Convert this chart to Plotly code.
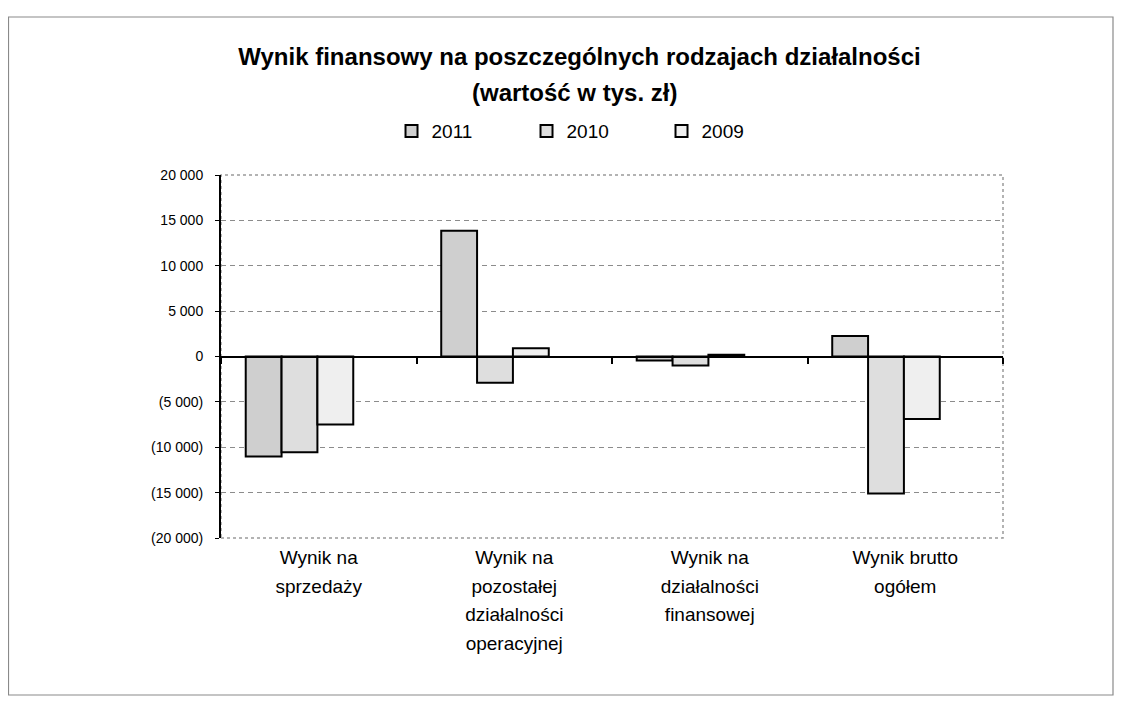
import plotly.graph_objects as go

categories = ["Wynik na sprzedaży",
              "Wynik na pozostałej działalności operacyjnej",
              "Wynik na działalności finansowej",
              "Wynik brutto ogółem"]
label_lines = [["Wynik na", "sprzedaży"],
               ["Wynik na", "pozostałej", "działalności", "operacyjnej"],
               ["Wynik na", "działalności", "finansowej"],
               ["Wynik brutto", "ogółem"]]
years = ["2011", "2010", "2009"]
v2011 = [-11030, 13850, -450, 2250]
v2010 = [-10550, -2900, -1000, -15100]
v2009 = [-7500, 900, 200, -6900]
series = [v2011, v2010, v2009]
colors = ["#cfcfcf", "#dedede", "#efefef"]

y_tickvals = [20000, 15000, 10000, 5000, 0, -5000, -10000, -15000, -20000]
y_ticktext = ["20 000", "15 000", "10 000", "5 000", "0",
              "(5 000)", "(10 000)", "(15 000)", "(20 000)"]

FONT = "Liberation Sans, Arial, sans-serif"

# the page body adds an 8px offset; layout below is expressed in figure pixels
L, R, T, B = 213, 127, 167, 171
W, H = 1122, 701
PW, PH = W - L - R, H - T - B

tick_labels = ["<br>".join("<span style='font-size:19px'>%s</span>" % s for s in lines)
               for lines in label_lines]

fig = go.Figure()
for name, vals, col in zip(years, series, colors):
    fig.add_trace(go.Bar(
        x=categories, y=vals, name=name,
        marker=dict(color=col, line=dict(color="black", width=2)),
        xaxis="x", yaxis="y",
    ))

n = len(categories)
shift = 0.0985  # bars sit left of the category centre, as in the original
fig.update_layout(
    width=W, height=H,
    paper_bgcolor="white", plot_bgcolor="white",
    margin=dict(l=L, r=R, t=T, b=B),
    barmode="group", bargap=0.45, bargroupgap=0,
    font=dict(family=FONT, color="black"),
    title=dict(text="<b>Wynik finansowy na poszczególnych rodzajach działalności</b>",
               font=dict(size=24, family=FONT, color="black"),
               x=(579.5 - 8) / W, xanchor="center", xref="container",
               y=1 - 49 / H, yanchor="middle", yref="container"),
    showlegend=True,
    legend=dict(orientation="h", x=0.477, xanchor="center", y=1.121, yanchor="middle",
                font=dict(size=19, family=FONT), entrywidth=90, traceorder="normal",
                bgcolor="rgba(0,0,0,0)"),
    xaxis=dict(type="category", categoryorder="array", categoryarray=categories,
               range=[-0.5 + shift, n - 0.5 + shift],
               showticklabels=False, ticks="", showgrid=False, showline=False,
               zeroline=False, domain=[0, 1]),
    xaxis2=dict(type="linear", overlaying="x", anchor="y", side="bottom",
                range=[-0.5, n - 0.5], tickvals=list(range(n)), ticktext=tick_labels,
                tickfont=dict(size=22, family=FONT, color="black"),
                ticklabelstandoff=3,
                ticks="", showgrid=False, showline=False, zeroline=False),
    xaxis3=dict(type="linear", overlaying="x", anchor="free", position=0.5,
                range=[-0.5, n - 0.5],
                tickvals=[i - 0.5 for i in range(n + 1)],
                showticklabels=False, ticks="outside", ticklen=6, tickwidth=2,
                tickcolor="black", showline=True, linecolor="black", linewidth=2,
                showgrid=False, zeroline=False),
    yaxis=dict(range=[-20000, 20000], tickvals=y_tickvals, ticktext=y_ticktext,
               tickfont=dict(size=14, family=FONT, color="black"),
               ticks="outside", ticklen=4, tickcolor="black", ticklabelstandoff=9,
               showline=True, linecolor="black", linewidth=2,
               showgrid=True, gridcolor="#8c8c8c", griddash="5px,4px", gridwidth=1,
               zeroline=False, domain=[0, 1]),
    annotations=[dict(text="<b>(wartość w tys. zł)</b>", xref="paper", yref="paper",
                      x=(574 - 8 - L) / PW, y=(H - B - (93 - 8)) / PH,
                      xanchor="center", yanchor="middle",
                      showarrow=False, font=dict(size=24, family=FONT, color="black"))],
    shapes=[
        dict(type="rect", xref="paper", yref="paper", x0=0, x1=1, y0=0, y1=1,
             line=dict(color="#9a9a9a", width=1.5, dash="dot"), layer="below"),
        dict(type="rect", xref="paper", yref="paper",
             x0=(0.5 - L) / PW, x1=(1105 - L) / PW,
             y0=(H - B - 687) / PH, y1=(H - B - 9) / PH,
             line=dict(color="#8a8a8a", width=1.2), layer="below"),
    ],
)

# invisible anchor traces so the overlay axes are rendered
fig.add_trace(go.Scatter(x=[0], y=[0], xaxis="x2", yaxis="y", mode="markers",
                         marker=dict(opacity=0), showlegend=False, hoverinfo="skip"))
fig.add_trace(go.Scatter(x=[0], y=[0], xaxis="x3", yaxis="y", mode="markers",
                         marker=dict(opacity=0), showlegend=False, hoverinfo="skip"))

fig.write_html("out.html")
